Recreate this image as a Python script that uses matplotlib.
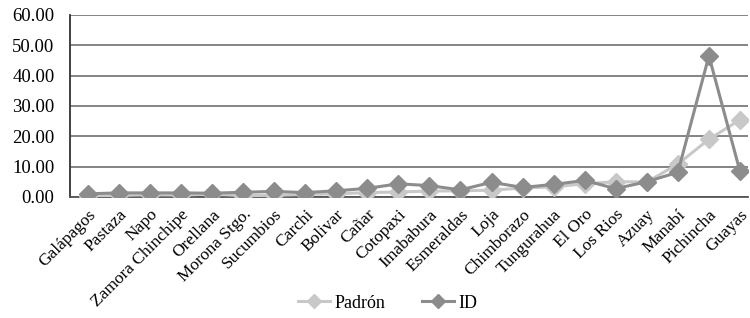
import matplotlib.pyplot as plt

plt.rcParams['font.family'] = ['Liberation Serif', 'DejaVu Serif']

provincias = ['Galápagos', 'Pastaza', 'Napo', 'Zamora Chinchipe', 'Orellana',
              'Morona Stgo.', 'Sucumbios', 'Carchi', 'Bolivar', 'Cañar',
              'Cotopaxi', 'Imababura', 'Esmeraldas', 'Loja', 'Chimborazo',
              'Tungurahua', 'El Oro', 'Los Rios', 'Azuay', 'Manabí',
              'Pichincha', 'Guayas']
padron = [0.2, 0.5, 0.7, 0.6, 0.9, 0.4, 0.5, 0.8, 1.0, 1.4,
          1.6, 1.9, 2.0, 2.2, 2.9, 3.3, 4.3, 5.0, 4.9, 10.8,
          19.0, 25.4]
id_vals = [1.0, 1.3, 1.3, 1.3, 1.2, 1.5, 1.8, 1.4, 2.0, 2.8,
           4.3, 3.7, 2.3, 4.8, 3.1, 4.1, 5.4, 2.7, 5.0, 8.1,
           46.5, 8.4]

fig = plt.figure(figsize=(7.5, 3.18), dpi=100)
ax = fig.add_axes([0.093, 0.381, 0.904, 0.572])

x = range(len(provincias))
ax.plot(x, padron, color='#c8c8c8', lw=2.2, marker='D', ms=9,
        label='Padrón', zorder=3)
ax.plot(x, id_vals, color='#8c8c8c', lw=2.2, marker='D', ms=9,
        label='ID', zorder=4)

ax.set_ylim(0, 60)
ax.set_yticks(range(0, 61, 10))
ax.set_yticklabels(['%.2f' % v for v in range(0, 61, 10)], fontsize=13.5)
ax.set_xlim(-0.58, 21.25)
ax.set_xticks(list(x))
ax.set_xticklabels(provincias, rotation=45, ha='right', rotation_mode='anchor',
                   fontsize=12.5)
ax.tick_params(axis='y', length=0, pad=11)
ax.tick_params(axis='x', length=0, pad=7)
ax.yaxis.grid(True, color='#707070', lw=1.2)
ax.set_axisbelow(True)
for s in ['top', 'right']:
    ax.spines[s].set_visible(False)
ax.spines['left'].set_color('#333333')
ax.spines['left'].set_linewidth(1.3)
ax.spines['bottom'].set_color('#555555')
ax.spines['bottom'].set_linewidth(1.3)

fig.legend(loc='center', bbox_to_anchor=(0.517, 0.047), ncol=2, frameon=False,
           fontsize=13, handlelength=1.8, handletextpad=0.25, columnspacing=2.0,
           markerscale=0.75)

fig.savefig('out.png', dpi=100)
